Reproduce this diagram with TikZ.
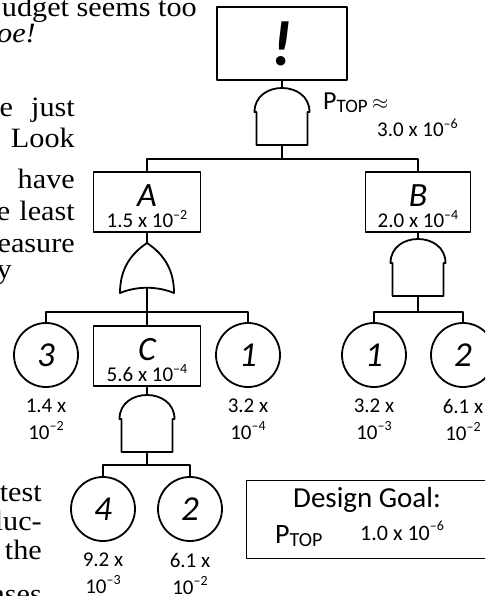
\documentclass[tikz,border=0pt]{standalone}
\usepackage{fontspec}
\setmainfont{Liberation Serif}[FakeStretch=1.08]
\newfontfamily\gsans{Carlito}
\usetikzlibrary{positioning}
\newcommand{\ex}[1]{\raisebox{0.42em}{\fontsize{14}{14}\selectfont #1}}
\newcommand{\pv}[2]{#1 x 10\ex{\textendash#2}}
\newcommand{\evname}[1]{{\fontsize{34}{21}\selectfont\itshape\rule{0pt}{31pt}#1}}

\begin{document}
\begin{tikzpicture}[x=1pt, y=-1pt, line cap=round, line join=round,
    wire/.style={line width=1.8pt},
    event/.style={draw, line width=1.8pt, inner sep=0pt, minimum width=107pt,
      minimum height=60pt, align=center, font=\gsans\fontsize{21}{21}\selectfont},
    basic/.style={draw, circle, line width=1.8pt, minimum size=64pt, inner sep=0pt,
      font=\gsans\itshape\fontsize{35}{35}\selectfont},
    prob/.style={align=center, inner sep=0pt, font=\gsans\fontsize{21}{27}\selectfont},
    prose/.style={inner sep=0pt, font=\fontsize{28}{31}\selectfont},
    andgate/.pic={
      \draw[wire] (-27.5,24) .. controls (-27.5,-8) and (27.5,-8) .. (27.5,24)
        -- (25.5,24) -- (25.5,57) -- (-25.5,57) -- (-25.5,24) -- cycle;
      \coordinate (-in) at (0,0);
      \coordinate (-out) at (0,57);
    },
    orgate/.pic={
      \draw[wire] (0,0) .. controls (-18,12) and (-27,28) .. (-27,50)
        .. controls (-10,43) and (10,43) .. (27,50)
        .. controls (27,28) and (18,12) .. (0,0) -- cycle;
      \coordinate (-in) at (0,0);
      \coordinate (-out) at (0,44.8);
    }]
  \useasboundingbox (0,0) rectangle (485,596);
  \clip (0,0) rectangle (485,596);

  % text of the page beside the tree
  \node[prose, anchor=base east] (t1) at (197,17) {udget seems too};
  \node[prose, anchor=base east] (t2) at (36,43) {\itshape oe!};
  \node[prose, anchor=base east] (t3) at (75,117) {e\hspace*{18pt}just};
  \node[prose, anchor=base east] (t4) at (75,148) {Look};
  \node[prose, anchor=base east] (t5) at (75,188) {have};
  \node[prose, anchor=base east] (t6) at (75,220) {e\hspace*{9pt}least};
  \node[prose, anchor=base east] (t7) at (75,252) {easure};
  \node[prose, anchor=base east] (t8) at (12,278) {y};
  \node[prose, anchor=base east] (t9) at (42,501) {test};
  \node[prose, anchor=base east] (t10) at (42,530) {luc-};
  \node[prose, anchor=base east] (t11) at (42,559) {the};
  \node[prose, anchor=base east] (t12) at (42,603) {ases};

  % top event
  \node[event, minimum width=130pt, minimum height=73pt,
    font=\gsans\bfseries\itshape\fontsize{64}{64}\selectfont] (top) at (282,43.5) {!};
  \pic (g0) at (282,88) {andgate};
  \draw[wire] (top.south) -- (g0-in);
  \node[anchor=base west, inner sep=0pt] (ptop) at (323,110)
    {\gsans\fontsize{26}{26}\selectfont P\raisebox{-3pt}{\fontsize{19}{19}\selectfont TOP}\,\fontsize{22}{22}\selectfont$\approx$};
  \node[anchor=base west, inner sep=0pt, font=\gsans\fontsize{21}{21}\selectfont] (ptopv) at (377,137) {\pv{3.0}{6}};
  \coordinate (j0) at (282,159);
  \draw[wire] (g0-out) -- (j0);

  % second level
  \node[event] (A) at (147,202) {\evname{A}\\\pv{1.5}{2}};
  \node[event, minimum width=105pt] (B) at (418,202) {\evname{B}\\\pv{2.0}{4}};
  \draw[wire] (A.north) |- (j0) -| (B.north);

  % under A
  \pic (gA) at (147,243) {orgate};
  \draw[wire] (A.south) -- (gA-in);
  \coordinate (jA) at (147,312);
  \draw[wire] (gA-out) -- (jA);
  \node[basic] (e3) at (46,355) {3};
  \node[event] (C) at (147,356) {\evname{C}\\\pv{5.6}{4}};
  \node[basic] (e1) at (248,355) {1};
  \draw[wire] (e3.north) |- (jA) -| (e1.north);
  \draw[wire] (jA) -- (C.north);
  \node[prob, below=11pt of e3] (p3) {1.4 x\\10\ex{\textendash2}};
  \node[prob, below=11pt of e1] (p1) {3.2 x\\10\ex{\textendash4}};

  % under C
  \pic (gC) at (147,395) {andgate};
  \draw[wire] (C.south) -- (gC-in);
  \coordinate (jC) at (147,465);
  \draw[wire] (gC-out) -- (jC);
  \node[basic] (e4) at (103,509) {4};
  \node[basic] (e2) at (190,509) {2};
  \draw[wire] (e4.north) |- (jC) -| (e2.north);
  \node[prob, below=11pt of e4] (p4) {9.2 x\\10\ex{\textendash3}};
  \node[prob, below=11pt of e2] (p2) {6.1 x\\10\ex{\textendash2}};

  % under B
  \pic (gB) at (418,239) {andgate};
  \draw[wire] (B.south) -- (gB-in);
  \coordinate (jB) at (418,312);
  \draw[wire] (gB-out) -- (jB);
  \node[basic] (f1) at (374,355) {1};
  \node[basic] (f2) at (463,355) {2};
  \draw[wire] (f1.north) |- (jB) -| (f2.north);
  \node[prob, below=11pt of f1] (q1) {3.2 x\\10\ex{\textendash3}};
  \node[prob, below=11pt of f2] (q2) {6.1 x\\10\ex{\textendash2}};

  % design goal
  \node[draw, line width=1.1pt, minimum width=260pt, minimum height=78pt,
    anchor=north west, inner sep=0pt] (goal) at (246,480) {};
  \node[anchor=base, inner sep=0pt, font=\gsans\fontsize{29}{29}\selectfont]
    (goalt) at (367,507) {Design Goal:};
  \node[anchor=base west, inner sep=0pt, font=\gsans\fontsize{28}{28}\selectfont]
    (goalp) at (275,543) {P\raisebox{-3pt}{\fontsize{20}{20}\selectfont TOP}};
  \node[anchor=base west, inner sep=0pt, font=\gsans\fontsize{22}{22}\selectfont]
    (goalv) at (360,540) {\pv{1.0}{6}};
\end{tikzpicture}
\end{document}
